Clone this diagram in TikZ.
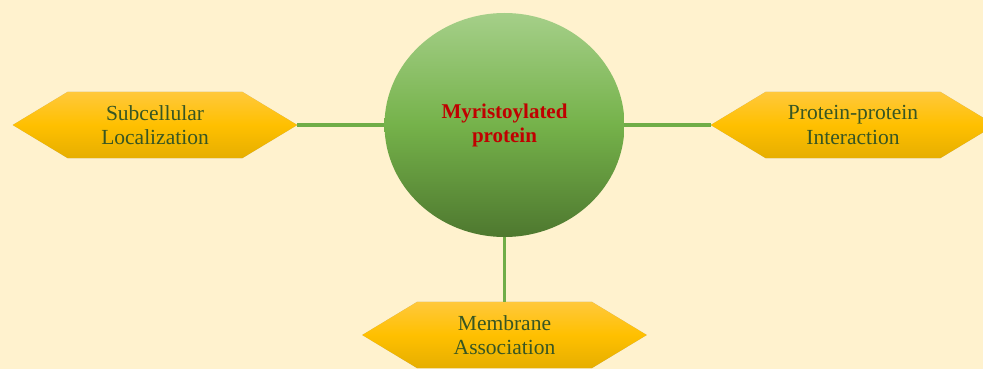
\documentclass[tikz,border=0pt]{standalone}
\usepackage{fontspec}
\setmainfont{Liberation Serif}
\usetikzlibrary{calc,shapes.geometric}
\pgfdeclarelayer{canvas}
\pgfdeclarelayer{background}
\pgfsetlayers{canvas,background,main}
\definecolor{bgc}{RGB}{255,242,206}
\definecolor{hextop}{RGB}{255,200,60}
\definecolor{hexmid}{RGB}{255,192,0}
\definecolor{hexbot}{RGB}{230,174,0}
\definecolor{circtop}{RGB}{165,207,137}
\definecolor{circmid}{RGB}{117,178,74}
\definecolor{circbot}{RGB}{78,120,47}
\definecolor{hextext}{RGB}{55,86,35}
\definecolor{titlered}{RGB}{192,0,0}
\definecolor{linkc}{RGB}{112,173,71}
\definecolor{shadowc}{RGB}{90,70,20}
\tikzset{
  hexnode/.style={rectangle, inner sep=0pt, minimum width=284pt, minimum height=66pt,
    align=center, text=hextext, font=\fontsize{21.5}{24.5}\selectfont},
  hexfill/.style={top color=hextop, bottom color=hexbot, middle color=hexmid},
  hexshadow/.style={fill=shadowc, fill opacity=0.15},
  circnode/.style={ellipse, minimum width=240pt, minimum height=224pt, inner sep=0pt,
    top color=circtop, bottom color=circbot, middle color=circmid,
    align=center, text=titlered, font=\fontsize{21}{24}\selectfont\bfseries},
  link/.style={draw=linkc, line width=3.8pt}
}
\newcommand\hexpath[1]{(#1.west) -- ($(#1.north west)+(55,0)$) -- ($(#1.north east)+(-55,0)$)
     -- (#1.east) -- ($(#1.south east)+(-55,0)$) -- ($(#1.south west)+(55,0)$) -- cycle}
\newcommand\hexshape[1]{%
  \begin{pgfonlayer}{background}
  \foreach \dx/\dy in {1/2,2/3.5,2.5/5}{
    \fill[hexshadow, xshift=\dx pt, yshift=-\dy pt] \hexpath{#1};
  }
  \shade[hexfill] \hexpath{#1};
  \end{pgfonlayer}}
\begin{document}
\begin{tikzpicture}[x=1pt,y=-1pt]
\begin{pgfonlayer}{canvas}
\fill[bgc] (0,0) rectangle (983,369);
\end{pgfonlayer}
\useasboundingbox (0,0) rectangle (983,369);
\node[hexnode] (lhex) at (155,125) {Subcellular\\Localization};
\node[hexnode] (rhex) at (853,125) {Protein-protein\\Interaction};
\node[hexnode] (bhex) at (504.5,335) {Membrane\\Association};
\hexshape{lhex}
\hexshape{rhex}
\hexshape{bhex}
\begin{pgfonlayer}{background}
\coordinate (circc) at (504.5,125);
\draw[link] (lhex.east) -- (circc);
\draw[link] (rhex.west) -- (circc);
\draw[link] (bhex.north) -- (circc);
\end{pgfonlayer}
\node[circnode] (circ) at (circc) {Myristoylated\\protein};
\end{tikzpicture}
\end{document}
